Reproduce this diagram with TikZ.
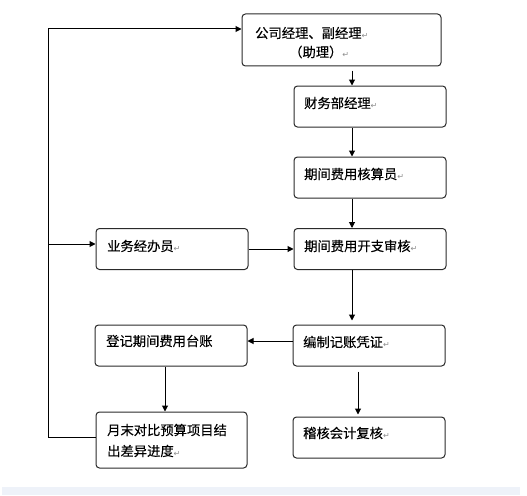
\documentclass[tikz,border=0pt]{standalone}
\usepackage{fontspec}
\setmainfont{Noto Sans CJK SC}[FakeBold=0.3]
\newfontfamily\markfont{DejaVu Sans}
\usetikzlibrary{arrows.meta}
\definecolor{barcol}{HTML}{EEF2F9}
\definecolor{linecol}{HTML}{2A2A2A}
\newcommand{\parmk}{{\markfont\fontsize{8}{8}\selectfont\color{black!45}↵}}
\tikzset{
  box/.style={draw=linecol, line width=1pt, rounded corners=3.5pt, inner sep=0pt},
  txt/.style={anchor=west, inner sep=0pt, font=\fontsize{13.3}{20}\selectfont, text=black},
  conn/.style={draw=black, line width=1pt},
  arr/.style={conn, -{Triangle[length=6pt,width=6pt]}}
}
\begin{document}
\begin{tikzpicture}[x=1pt,y=-1pt]
\useasboundingbox (0,0) rectangle (527,495);
\fill[barcol] (2,487) rectangle (520,495);
% boxes
\node[box, minimum width=199pt, minimum height=52pt] (b1) at (341.5,40) {};
\node[box, minimum width=152pt, minimum height=41pt] (b2) at (370,106.5) {};
\node[box, minimum width=152pt, minimum height=41pt] (b3) at (370,177.5) {};
\node[box, minimum width=152pt, minimum height=41pt] (b4) at (172,249) {};
\node[box, minimum width=152pt, minimum height=41pt] (b5) at (370,249) {};
\node[box, minimum width=152pt, minimum height=41pt] (b6) at (171,345.5) {};
\node[box, minimum width=152pt, minimum height=41pt] (b7) at (369,345.5) {};
\node[box, minimum width=151pt, minimum height=56pt] (b8) at (171.5,440) {};
\node[box, minimum width=152pt, minimum height=41pt] (b9) at (369,437.5) {};
% texts
\node[txt] (t1a) at (255,33) {公司经理、副经理\parmk};
\node[txt] (t1b) at (289,52) {（助理）\parmk};
\node[txt] (t2) at (304,103) {财务部经理\parmk};
\node[txt] (t3) at (304,174) {期间费用核算员\parmk};
\node[txt] (t4) at (107,246) {业务经办员\parmk};
\node[txt] (t5) at (304,246) {期间费用开支审核\parmk};
\node[txt] (t6) at (106,341) {登记期间费用台账};
\node[txt] (t7) at (303,342) {编制记账凭证\parmk};
\node[txt] (t8a) at (107,430) {月末对比预算项目结};
\node[txt] (t8b) at (107,451) {出差异进度\parmk};
\node[txt] (t9) at (303,433) {稽核会计复核\parmk};
% helper coordinates
\coordinate (cx) at (352,0);
\coordinate (cy) at (358,0);
\coordinate (cz) at (165,0);
\coordinate (lt) at (48,29);
\coordinate (lm) at (48,244);
\coordinate (lb) at (48,437);
% connectors
\draw[conn] (lb -| b8.west) -- (lb) -- (lt);
\draw[arr] (lt) -- (lt -| b1.west);
\draw[arr] (lm) -- (lm -| b4.west);
\draw[arr] ([yshift=-4pt]b1.south -| cx) -- (b2.north -| cx);
\draw[arr] (b2.south -| cx) -- (b3.north -| cx);
\draw[arr] (b3.south -| cx) -- (b5.north -| cx);
\draw[arr] (b4.east) -- (b5.west);
\draw[arr] (b5.south -| cx) -- ([yshift=4pt]b7.north -| cx);
\draw[arr] ([yshift=4.5pt]b7.west) -- ([yshift=4.5pt]b6.east);
\draw[arr] (b6.south -| cz) -- (b8.north -| cz);
\draw[arr] ([yshift=-5pt]b7.south -| cy) -- ([yshift=2pt]b9.north -| cy);
\end{tikzpicture}
\end{document}
